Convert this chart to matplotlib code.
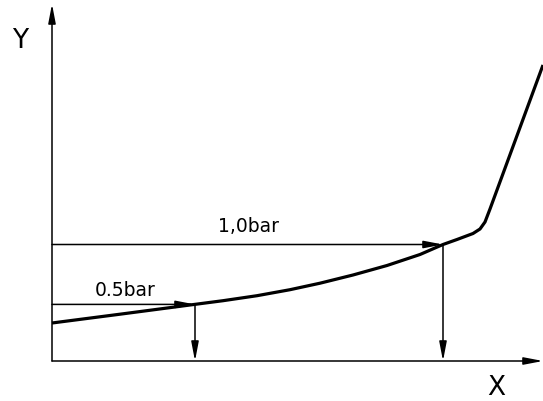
import numpy as np
import matplotlib
matplotlib.use('Agg')
import matplotlib.pyplot as plt

# characteristic curve (x, y in drawing units, origin at the axis corner)
curve_x = [0, 68, 138, 171, 205, 238, 268, 301, 335, 368, 391,
           405, 421, 428, 433, 438, 491]
curve_y = [38, 46.8, 56, 60.3, 65.3, 71.3, 77.8, 86, 95.5, 106.5, 116.5,
           121.5, 127.5, 132, 139, 152, 296]

# read-off points for the two pressure levels
levels = ['0.5bar', '1,0bar']
level_x = [143, 391]
level_y = [56.6, 116.5]
label_pos = [(73, 72), (196, 135)]

x_max = 491
y_max = 357

fig = plt.figure(figsize=(5.43, 4.02), dpi=100)
ax = fig.add_axes([0, 0, 1, 1])
ax.set_xlim(-52, 491)
ax.set_ylim(-40, 362)
ax.axis('off')

thin = dict(arrowstyle='-|>,head_length=1.15,head_width=0.22',
            color='black', lw=1.1, shrinkA=0, shrinkB=0)

# axes with arrow heads
ax.annotate('', xy=(0, y_max), xytext=(0, 0), arrowprops=thin)
ax.annotate('', xy=(x_max, 0), xytext=(0, 0), arrowprops=thin)
ax.text(-32, 321, 'Y', fontsize=19, ha='center', va='center')
ax.text(444, -26, 'X', fontsize=19, ha='center', va='center')

# curve
ax.plot(curve_x, curve_y, color='black', lw=2.3, solid_joinstyle='round',
        solid_capstyle='butt', clip_on=False)

# horizontal arrow to the curve, then down to the x axis
for name, px, py, (tx, ty) in zip(levels, level_x, level_y, label_pos):
    ax.annotate('', xy=(px, py), xytext=(0, py), arrowprops=thin)
    ax.annotate('', xy=(px, 0), xytext=(px, py), arrowprops=thin)
    ax.text(tx, ty, name, fontsize=13.5, ha='center', va='center')

fig.savefig('out.png', dpi=100)
